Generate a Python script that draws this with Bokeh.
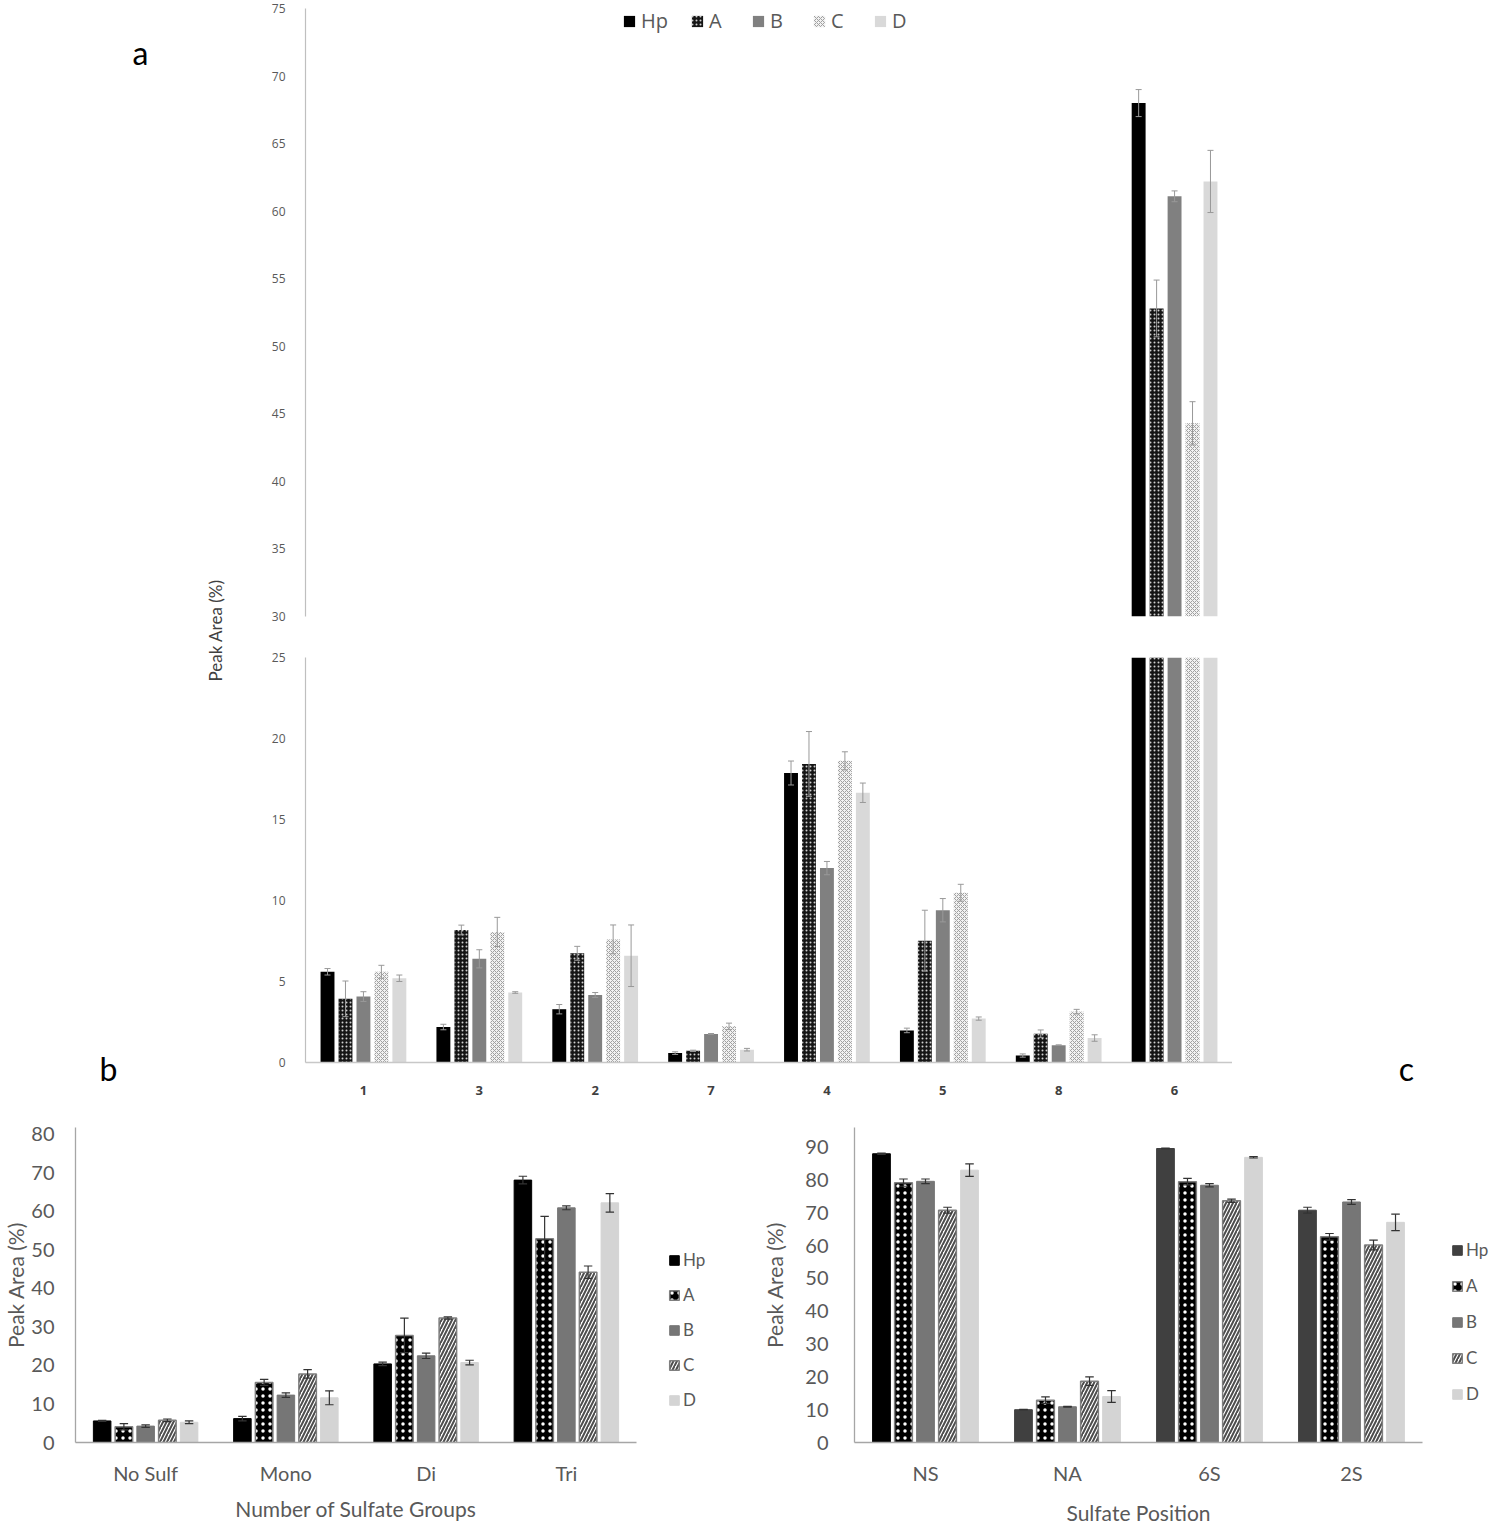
import numpy as np
from bokeh.plotting import figure
from bokeh.models import (FactorRange, Range1d, ColumnDataSource, Legend,
                          LegendItem, Label, FixedTicker)
from bokeh.transform import dodge
from bokeh.layouts import column, row
from bokeh.embed import file_html
from bokeh.resources import INLINE

# ---------------- data ----------------
series = ["Hp", "A", "B", "C", "D"]

# panel a: peak areas per peak number
peaks = ["1", "3", "2", "7", "4", "5", "8", "6"]
a_hp = [5.60, 2.19, 3.29, 0.58, 17.87, 1.98, 0.43, 68.0]
a_hp_err = [0.20, 0.17, 0.29, 0.08, 0.74, 0.14, 0.10, 1.0]
a_A = [3.93, 8.18, 6.74, 0.72, 18.43, 7.52, 1.78, 52.8]
a_A_err = [1.10, 0.30, 0.43, 0.04, 2.00, 1.88, 0.23, 2.1]
a_B = [4.07, 6.40, 4.17, 1.76, 12.00, 9.40, 1.07, 61.1]
a_B_err = [0.30, 0.56, 0.15, 0.03, 0.41, 0.72, 0.02, 0.4]
a_C = [5.60, 8.06, 7.60, 2.23, 18.62, 10.48, 3.14, 44.3]
a_C_err = [0.40, 0.90, 0.89, 0.20, 0.56, 0.52, 0.14, 1.6]
a_D = [5.20, 4.32, 6.59, 0.79, 16.65, 2.71, 1.51, 62.2]
a_D_err = [0.20, 0.05, 1.90, 0.08, 0.60, 0.10, 0.20, 2.3]
a_lower_ticks = [0, 5, 10, 15, 20, 25]
a_upper_ticks = [30, 35, 40, 45, 50, 55, 60, 65, 70, 75]

# panel b: number of sulfate groups
groups = ["No Sulf", "Mono", "Di", "Tri"]
b_hp = [5.6, 6.2, 20.4, 68.1]
b_hp_err = [0.15, 0.6, 0.45, 1.0]
b_A = [4.1, 15.6, 27.8, 52.9]
b_A_err = [0.8, 0.8, 4.5, 5.8]
b_B = [4.25, 12.3, 22.5, 60.9]
b_B_err = [0.3, 0.6, 0.7, 0.5]
b_C = [5.75, 17.8, 32.3, 44.2]
b_C_err = [0.35, 1.1, 0.3, 1.6]
b_D = [5.25, 11.6, 20.75, 62.2]
b_D_err = [0.35, 1.8, 0.6, 2.4]
b_ticks = [0, 10, 20, 30, 40, 50, 60, 70, 80]
b_axis_max = 81.75

# panel c: sulfate position
positions = ["NS", "NA", "6S", "2S"]
c_hp = [88.0, 10.0, 89.6, 70.8]
c_hp_err = [0.2, 0.1, 0.1, 0.9]
c_A = [79.2, 12.9, 79.5, 62.7]
c_A_err = [1.1, 1.0, 1.0, 1.0]
c_B = [79.6, 10.9, 78.4, 73.3]
c_B_err = [0.7, 0.1, 0.5, 0.7]
c_C = [70.8, 18.7, 73.7, 60.2]
c_C_err = [0.9, 1.3, 0.5, 1.5]
c_D = [83.0, 14.0, 86.9, 67.1]
c_D_err = [1.9, 1.8, 0.2, 2.5]
c_ticks = [0, 10, 20, 30, 40, 50, 60, 70, 80, 90]
c_axis_max = 96.0

# ---------------- styles ----------------
OFFS = [-0.31, -0.155, 0.0, 0.155, 0.31]
TXT = "#595959"
FONT_A = "Open Sans"
FONT_BC = "Lato"

styles_a = [
    dict(fill_color="black", line_color=None),
    dict(fill_color="#151515", hatch_pattern="dot", hatch_color="#d0d0d0", hatch_scale=4, hatch_weight=0.4, line_color=None),
    dict(fill_color="#808080", line_color=None),
    dict(fill_color="#f2f2f2", hatch_pattern="x", hatch_color="#a0a0a0", hatch_scale=4, hatch_weight=1, line_color=None),
    dict(fill_color="#d9d9d9", line_color=None),
]
styles_bc = [
    dict(fill_color="black", line_color="black", line_width=1),
    dict(fill_color="black", hatch_pattern="dot", hatch_color="white", hatch_scale=7, hatch_weight=1, line_color="#7f7f7f", line_width=1.5),
    dict(fill_color="#767676", line_color="#767676", line_width=1),
    dict(fill_color="white", hatch_pattern="/", hatch_color="#4d4d4d", hatch_scale=7, hatch_weight=2, line_color="#7f7f7f", line_width=1.5),
    dict(fill_color="#d4d4d4", line_color="#d4d4d4", line_width=1),
]


def errbars(p, src, key, off, cap, color, width):
    xc = dodge(key, off, range=p.x_range)
    p.segment(x0=xc, x1=xc, y0="lo", y1="hi", source=src, line_color=color, line_width=width)
    for yk in ("hi", "lo"):
        p.segment(x0=dodge(key, off - cap, range=p.x_range), x1=dodge(key, off + cap, range=p.x_range),
                  y0=yk, y1=yk, source=src, line_color=color, line_width=width)


def blank_fig(w, h):
    f = figure(width=w, height=h, x_range=Range1d(0, w), y_range=Range1d(h, 0),
               x_axis_location=None, y_axis_location=None, output_backend="svg",
               toolbar_location=None, min_border=0)
    f.grid.visible = False
    f.outline_line_color = None
    return f


def style_a_yaxis(ax, ticks):
    ax.ticker = FixedTicker(ticks=ticks)
    ax.bounds = (ticks[0], ticks[-1])
    ax.axis_line_color = "#bfbfbf"
    ax.axis_line_width = 1.2
    ax.major_tick_line_color = None
    ax.minor_tick_line_color = None
    ax.major_label_text_font = FONT_A
    ax.major_label_text_font_size = "12px"
    ax.major_label_text_color = TXT
    ax.major_label_standoff = 14


# ---------------- panel a ----------------
TOP_H = 1105
left = blank_fig(240, TOP_H)
left.add_layout(Label(x=215, y=630, text="Peak Area (%)", angle=np.pi / 2,
                      text_align="center", text_baseline="middle", text_font=FONT_BC,
                      text_font_size="17px", text_color="#404040"))
left.add_layout(Label(x=140, y=52, text="a", text_align="center", text_baseline="middle",
                      text_font=FONT_BC, text_font_size="32px", text_color="black"))
left.add_layout(Label(x=108, y=1068, text="b", text_align="center", text_baseline="middle",
                      text_font=FONT_BC, text_font_size="32px", text_color="black"))
right = blank_fig(264, TOP_H)
right.add_layout(Label(x=174, y=1068, text="c", text_align="center", text_baseline="middle",
                       text_font=FONT_BC, text_font_size="32px", text_color="black"))

up = figure(width=992, height=636, x_range=FactorRange(*peaks), y_range=Range1d(30, 75),
            x_axis_location=None, output_backend="svg", toolbar_location=None,
            min_border_left=65, min_border_right=0, min_border_top=8, min_border_bottom=20)
low = figure(width=992, height=TOP_H - 636, x_range=up.x_range, y_range=Range1d(0, 25),
             output_backend="svg", toolbar_location=None,
             min_border_left=65, min_border_right=0, min_border_top=21, min_border_bottom=43)
for f, ticks in ((up, a_upper_ticks), (low, a_lower_ticks)):
    f.grid.visible = False
    f.outline_line_color = None
    style_a_yaxis(f.yaxis[0], ticks)

xa = low.xaxis[0]
xa.axis_line_color = "#c8c8c8"
xa.axis_line_width = 1.5
xa.major_tick_line_color = None
xa.minor_tick_line_color = None
xa.major_label_text_font = FONT_A
xa.major_label_text_font_size = "13px"
xa.major_label_text_font_style = "bold"
xa.major_label_text_color = "#404040"
xa.major_label_standoff = 17

a_vals = [a_hp, a_A, a_B, a_C, a_D]
a_errs = [a_hp_err, a_A_err, a_B_err, a_C_err, a_D_err]
low_max = a_lower_ticks[-1]
up_min = a_upper_ticks[0]
legend_items_a = []
for k, name in enumerate(series):
    v = np.array(a_vals[k])
    e = np.array(a_errs[k])
    src_low = ColumnDataSource(dict(peak=peaks, top=np.minimum(v, low_max)))
    low.vbar(x=dodge("peak", OFFS[k], range=low.x_range), top="top", bottom=0, width=0.12,
             source=src_low, **styles_a[k])
    m_up = v >= up_min
    src_up = ColumnDataSource(dict(peak=[p for p, m in zip(peaks, m_up) if m], top=v[m_up],
                                   lo=(v - e)[m_up], hi=(v + e)[m_up]))
    r = up.vbar(x=dodge("peak", OFFS[k], range=up.x_range), top="top", bottom=up_min, width=0.12,
                source=src_up, **styles_a[k])
    m_lo = v <= low_max
    err_low = ColumnDataSource(dict(peak=[p for p, m in zip(peaks, m_lo) if m],
                                    lo=(v - e)[m_lo], hi=(v + e)[m_lo]))
    errbars(low, err_low, "peak", OFFS[k], 0.026, "#999999", 1)
    errbars(up, src_up, "peak", OFFS[k], 0.026, "#999999", 1)
    legend_items_a.append(LegendItem(label=name, renderers=[r]))

leg_a = Legend(items=legend_items_a, orientation="horizontal", location=(317, 582),
               label_text_font=FONT_A, label_text_font_size="20px", label_text_color=TXT,
               glyph_width=14, glyph_height=14, label_standoff=5, spacing=22,
               padding=0, margin=0, border_line_color=None, background_fill_alpha=0)
up.add_layout(leg_a)

# ---------------- panels b and c ----------------
BC_H = 1528 - TOP_H


def bc_panel(cats, vals, errs, ticks, ytop, xtitle, width, borders, stand, hp_colors=None):
    p = figure(width=width, height=BC_H, x_range=FactorRange(*cats), y_range=Range1d(0, ytop),
               output_backend="svg", toolbar_location=None,
               min_border_left=borders[0], min_border_right=borders[1],
               min_border_top=borders[2], min_border_bottom=borders[3])
    p.grid.visible = False
    p.outline_line_color = None
    ya = p.yaxis[0]
    ya.ticker = FixedTicker(ticks=ticks)
    ya.bounds = (0, ytop)
    ya.axis_line_color = "#a6a6a6"
    ya.axis_line_width = 1.3
    ya.major_tick_line_color = None
    ya.minor_tick_line_color = None
    ya.major_label_text_font = FONT_BC
    ya.major_label_text_font_size = "20px"
    ya.major_label_text_color = TXT
    ya.major_label_standoff = stand[0]
    ya.axis_label = "Peak Area (%)"
    ya.axis_label_text_font = FONT_BC
    ya.axis_label_text_font_size = "21px"
    ya.axis_label_text_font_style = "normal"
    ya.axis_label_text_color = TXT
    ya.axis_label_standoff = stand[1]
    xa = p.xaxis[0]
    xa.axis_line_color = "#a6a6a6"
    xa.axis_line_width = 1.3
    xa.major_tick_line_color = None
    xa.minor_tick_line_color = None
    xa.major_label_text_font = FONT_BC
    xa.major_label_text_font_size = "20px"
    xa.major_label_text_color = TXT
    xa.major_label_standoff = 12
    xa.axis_label = xtitle
    xa.axis_label_text_font = FONT_BC
    xa.axis_label_text_font_size = "21px"
    xa.axis_label_text_font_style = "normal"
    xa.axis_label_text_color = TXT
    xa.axis_label_standoff = stand[2]
    for k, name in enumerate(series):
        v = np.array(vals[k])
        e = np.array(errs[k])
        st = dict(styles_bc[k])
        data = dict(cat=cats, top=v, lo=v - e, hi=v + e)
        if k == 0 and hp_colors is not None:
            data["color"] = hp_colors
            st["fill_color"] = "color"
            st["line_color"] = "color"
        src = ColumnDataSource(data)
        p.vbar(x=dodge("cat", OFFS[k], range=p.x_range), top="top", bottom=0, width=0.125,
               source=src, **st)
        errbars(p, src, "cat", OFFS[k], 0.03, "#333333", 1.2)
    return p


def legend_fig(width, loc, spacing, hp_fill):
    f = blank_fig(width, BC_H)
    items = []
    for k, name in enumerate(series):
        st = dict(styles_bc[k])
        if k == 0:
            st["fill_color"] = hp_fill
            st["line_color"] = hp_fill
        # key-only renderer: one undefined (NaN) row, so nothing is drawn in the plot area
        key_src = ColumnDataSource(dict(x=np.array([np.nan]), top=np.array([np.nan])))
        r = f.vbar(x="x", top="top", bottom=0, width=1, source=key_src, **st)
        items.append(LegendItem(label=name, renderers=[r], index=0))
    leg = Legend(items=items, orientation="vertical", location=loc,
                 label_text_font=FONT_BC, label_text_font_size="17px", label_text_color=TXT,
                 glyph_width=12, glyph_height=12, label_standoff=3, spacing=spacing, label_height=20,
                 padding=0, margin=0, border_line_color=None, background_fill_alpha=0)
    f.add_layout(leg)
    return f


pb = bc_panel(groups, [b_hp, b_A, b_B, b_C, b_D], [b_hp_err, b_A_err, b_B_err, b_C_err, b_D_err],
              b_ticks, b_axis_max, "Number of Sulfate Groups", 650, (75, 14, 17, 84), (15, 0, 8))
lb = legend_fig(90, (18, 32), 14, "black")
pc = bc_panel(positions, [c_hp, c_A, c_B, c_C, c_D], [c_hp_err, c_A_err, c_B_err, c_C_err, c_D_err],
              c_ticks, c_axis_max, "Sulfate Position", 696, (114, 14, 22, 86), (20, 15, 12),
              hp_colors=["black", "#404040", "#404040", "#404040"])
lc = legend_fig(60, (15, 38), 15, "#404040")

layout = column(row(left, column(up, low), right), row(pb, lb, pc, lc))
open("out.html", "w").write(file_html(layout, INLINE))
